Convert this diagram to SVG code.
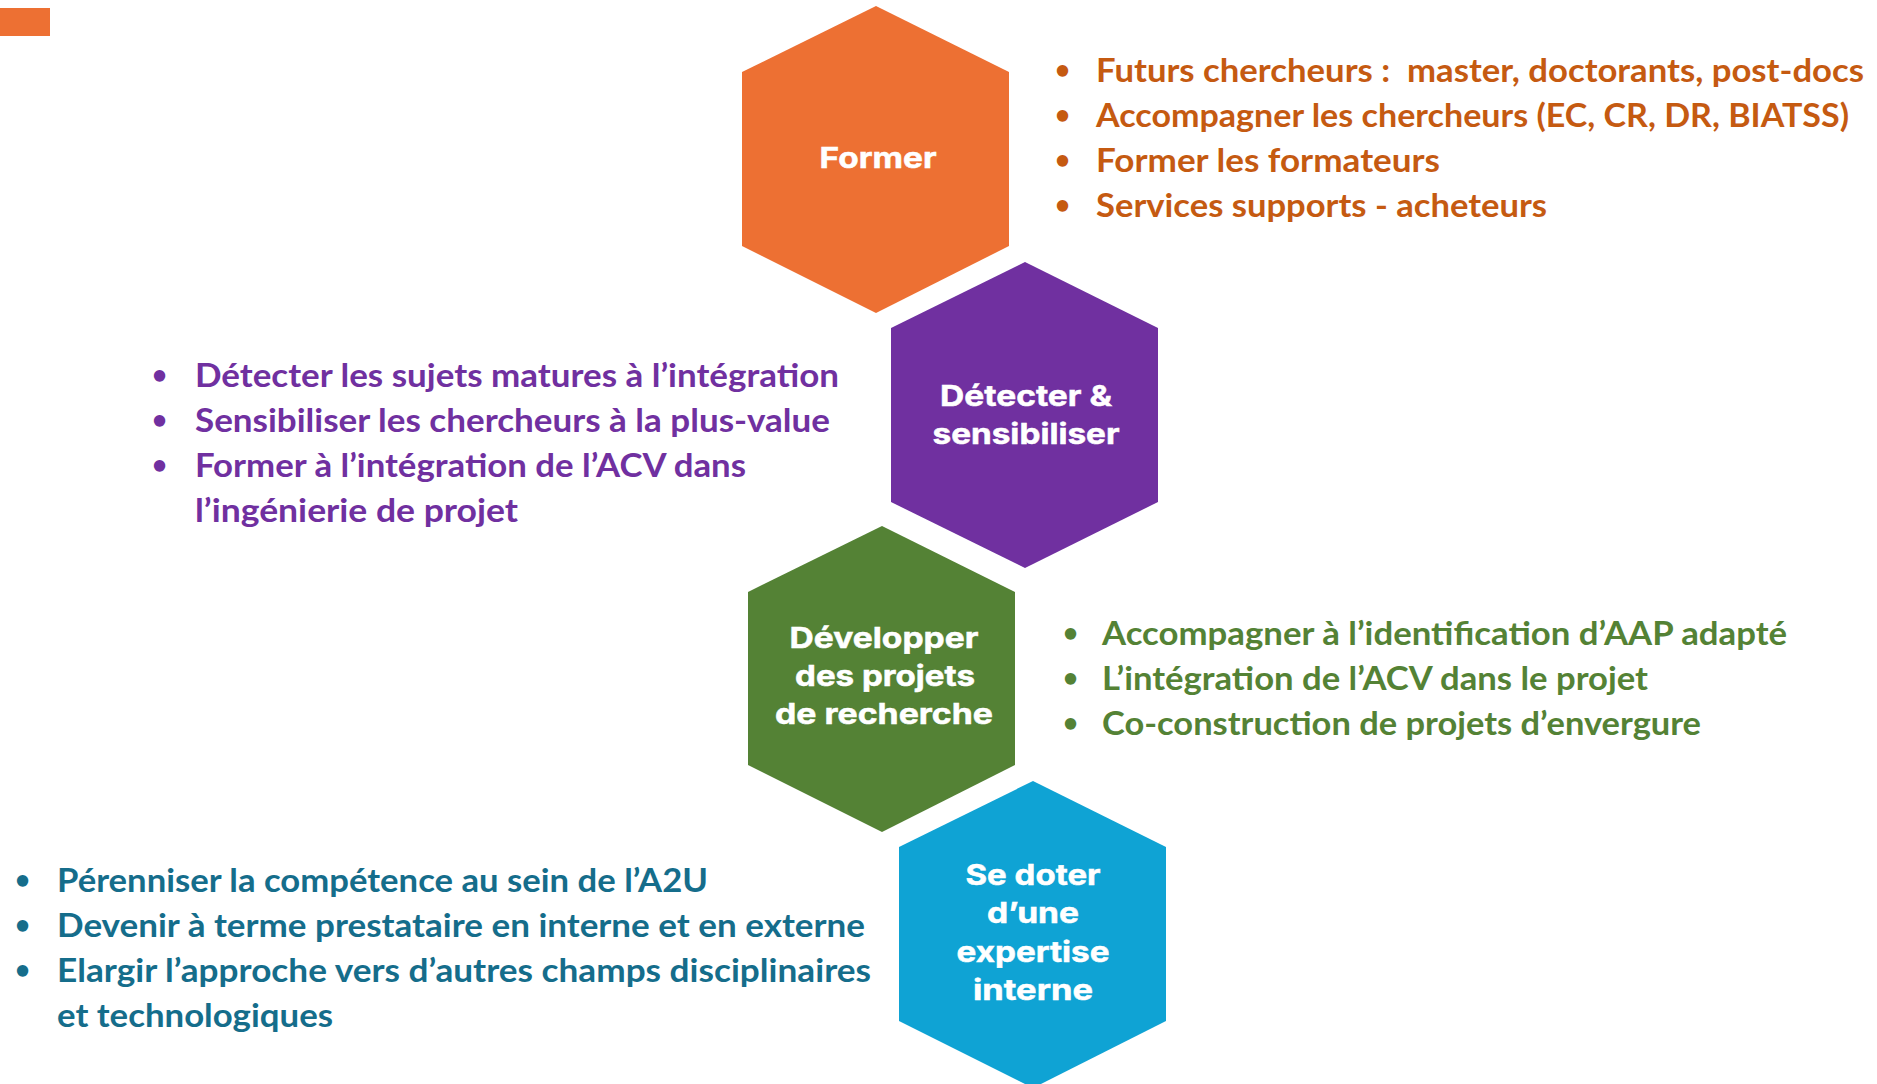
<svg xmlns="http://www.w3.org/2000/svg" width="1877" height="1084" viewBox="0 0 1877 1084">
<style>
.hl{font-family:Inter,"Open Sans","Liberation Sans",sans-serif;font-weight:700;font-size:29px;fill:#ffffff;stroke:#ffffff;stroke-width:0.5px;text-anchor:middle}
.bl{font-family:Lato,"Liberation Sans",sans-serif;font-weight:700;font-size:33px}
.bu1{font-family:Lato,"Liberation Sans",sans-serif;font-weight:700;font-size:26px}
.or{fill:#C55A11}.pu{fill:#7030A0}.gr{fill:#548235}.bu{fill:#156D8B}
</style>
<rect x="0" y="8" width="50" height="28" fill="#ED7033"/>
<g id="connectors"></g>
<g id="node-former">
<polygon points="876,6 1009,72 1009,246 876,313 742,246 742,72" fill="#ED7033"/>
<text class="hl" x="878" y="168" textLength="117" lengthAdjust="spacingAndGlyphs">Former</text>
</g>
<g id="node-detecter">
<polygon points="1025,262 1158,328 1158,502 1025,568 891,502 891,328" fill="#7030A0"/>
<text class="hl" x="1026" y="406" textLength="172" lengthAdjust="spacingAndGlyphs">Détecter &amp;</text>
<text class="hl" x="1026" y="444" textLength="187" lengthAdjust="spacingAndGlyphs">sensibiliser</text>
</g>
<g id="node-developper">
<polygon points="882,526 1015,592 1015,765 882,832 748,765 748,592" fill="#548235"/>
<text class="hl" x="884" y="648" textLength="189" lengthAdjust="spacingAndGlyphs">Développer</text>
<text class="hl" x="885" y="686" textLength="180" lengthAdjust="spacingAndGlyphs">des projets</text>
<text class="hl" x="884" y="724" textLength="218" lengthAdjust="spacingAndGlyphs">de recherche</text>
</g>
<g id="node-expertise">
<polygon points="1033,781 1166,847 1166,1021 1033,1088 899,1021 899,847" fill="#0FA3D4"/>
<text class="hl" x="1033" y="885" textLength="135" lengthAdjust="spacingAndGlyphs">Se doter</text>
<text class="hl" x="1033" y="923" textLength="92" lengthAdjust="spacingAndGlyphs">d’une</text>
<text class="hl" x="1033" y="962" textLength="153" lengthAdjust="spacingAndGlyphs">expertise</text>
<text class="hl" x="1033" y="1000" textLength="120" lengthAdjust="spacingAndGlyphs">interne</text>
</g>
<g id="list-former" class="or">
<text class="bu1" x="1055" y="79">•</text><text class="bl" xml:space="preserve" x="1096" y="82" textLength="768" lengthAdjust="spacingAndGlyphs">Futurs chercheurs :  master, doctorants, post-docs</text>
<text class="bu1" x="1055" y="124">•</text><text class="bl" x="1096" y="127" textLength="753" lengthAdjust="spacingAndGlyphs">Accompagner les chercheurs (EC, CR, DR, BIATSS)</text>
<text class="bu1" x="1055" y="169">•</text><text class="bl" x="1096" y="172" textLength="344" lengthAdjust="spacingAndGlyphs">Former les formateurs</text>
<text class="bu1" x="1055" y="214">•</text><text class="bl" x="1096" y="217" textLength="451" lengthAdjust="spacingAndGlyphs">Services supports - acheteurs</text>
</g>
<g id="list-detecter" class="pu">
<text class="bu1" x="152" y="384">•</text><text class="bl" x="195" y="387" textLength="644" lengthAdjust="spacingAndGlyphs">Détecter les sujets matures à l’intégration</text>
<text class="bu1" x="152" y="429">•</text><text class="bl" x="195" y="432" textLength="635" lengthAdjust="spacingAndGlyphs">Sensibiliser les chercheurs à la plus-value</text>
<text class="bu1" x="152" y="474">•</text><text class="bl" x="195" y="477" textLength="551" lengthAdjust="spacingAndGlyphs">Former à l’intégration de l’ACV dans</text>
<text class="bl" x="195" y="522" textLength="323" lengthAdjust="spacingAndGlyphs">l’ingénierie de projet</text>
</g>
<g id="list-developper" class="gr">
<text class="bu1" x="1063" y="642">•</text><text class="bl" x="1102" y="645" textLength="685" lengthAdjust="spacingAndGlyphs">Accompagner à l’identification d’AAP adapté</text>
<text class="bu1" x="1063" y="687">•</text><text class="bl" x="1102" y="690" textLength="546" lengthAdjust="spacingAndGlyphs">L’intégration de l’ACV dans le projet</text>
<text class="bu1" x="1063" y="732">•</text><text class="bl" x="1102" y="735" textLength="599" lengthAdjust="spacingAndGlyphs">Co-construction de projets d’envergure</text>
</g>
<g id="list-expertise" class="bu">
<text class="bu1" x="15" y="889">•</text><text class="bl" x="57" y="892" textLength="651" lengthAdjust="spacingAndGlyphs">Pérenniser la compétence au sein de l’A2U</text>
<text class="bu1" x="15" y="934">•</text><text class="bl" x="57" y="937" textLength="808" lengthAdjust="spacingAndGlyphs">Devenir à terme prestataire en interne et en externe</text>
<text class="bu1" x="15" y="979">•</text><text class="bl" x="57" y="982" textLength="814" lengthAdjust="spacingAndGlyphs">Elargir l’approche vers d’autres champs disciplinaires</text>
<text class="bl" x="57" y="1027" textLength="276" lengthAdjust="spacingAndGlyphs">et technologiques</text>
</g>
</svg>
